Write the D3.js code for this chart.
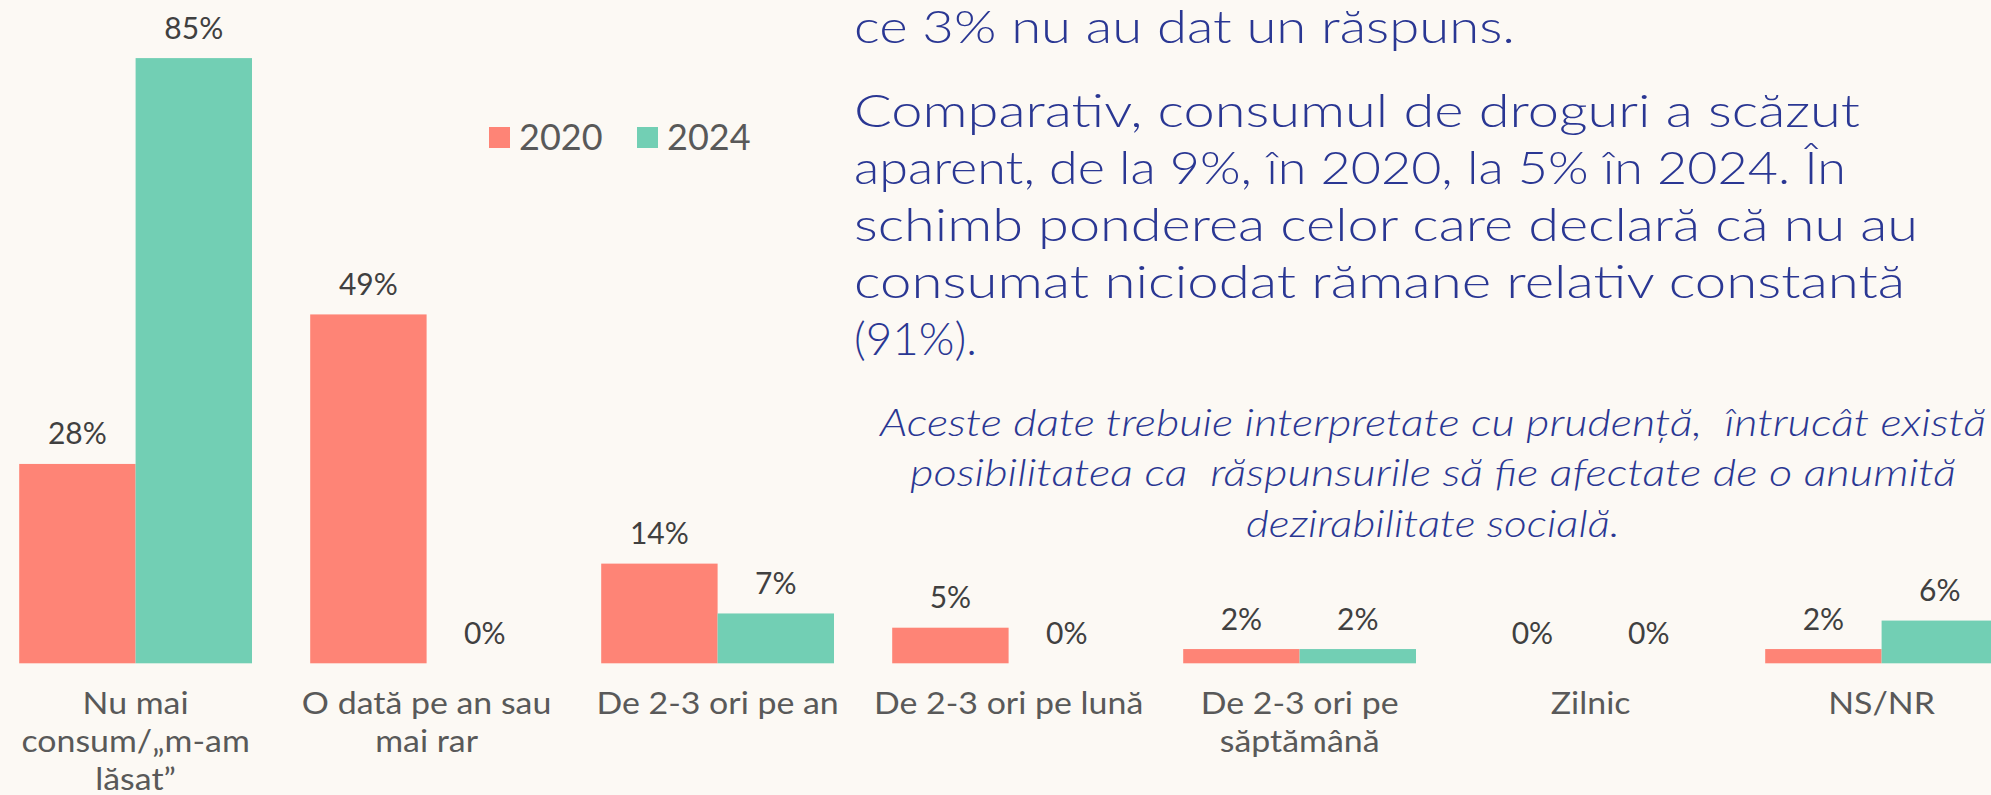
<!DOCTYPE html>
<html><head><meta charset="utf-8">
<script src="https://cdn.jsdelivr.net/npm/d3@7"></script>
<style>
html,body{margin:0;padding:0;background:#FCF9F4;}
svg{display:block;}
</style></head>
<body>
<svg id="c" width="1991" height="795"></svg>
<script>
const categories = ["Nu mai\nconsum/„m-am\nlăsat”", "O dată pe an sau\nmai rar", "De 2-3 ori pe an", "De 2-3 ori pe lună", "De 2-3 ori pe\nsăptămână", "Zilnic", "NS/NR"];
const seriesNames = ["2020", "2024"];
const values2020 = [28, 49, 14, 5, 2, 0, 2];
const values2024 = [85, 0, 7, 0, 2, 0, 6];
const colors = ["#FE8476", "#72CFB4"];
const paragraphLines = [
  "ce 3% nu au dat un răspuns.",
  "Comparativ, consumul de droguri a scăzut",
  "aparent, de la 9%, în 2020, la 5% în 2024. În",
  "schimb ponderea celor care declară că nu au",
  "consumat niciodat rămane relativ constantă",
  "(91%)."
];
const noteLines = [
  "Aceste date trebuie interpretate cu prudență,  întrucât există",
  "posibilitatea ca  răspunsurile să fie afectate de o anumită",
  "dezirabilitate socială."
];

const FONT = "Lato, 'Open Sans', sans-serif";
const svg = d3.select("#c");
svg.append("rect").attr("width",1991).attr("height",795).attr("fill","#FCF9F4");

const baseY = 663.3;
const y = d3.scaleLinear().domain([0,100]).range([baseY, baseY-712]);
const x = d3.scaleBand().domain(categories).range([-9.9, 2027.1]).paddingInner(0.2).paddingOuter(0.1);
const xs = d3.scaleBand().domain(seriesNames).range([0, x.bandwidth()]);
const color = d3.scaleOrdinal().domain(seriesNames).range(colors);

const rows = categories.map((c,i)=>({cat:c, vals:[{s:"2020",v:values2020[i]},{s:"2024",v:values2024[i]}]}));

const g = svg.append("g");
const grp = g.selectAll("g.cat").data(rows).join("g").attr("class","cat")
  .attr("transform", d=>`translate(${x(d.cat)},0)`);
grp.selectAll("rect").data(d=>d.vals).join("rect")
  .attr("x", d=>xs(d.s)).attr("width", xs.bandwidth())
  .attr("y", d=>y(d.v)).attr("height", d=>baseY - y(d.v))
  .attr("fill", d=>color(d.s));
grp.selectAll("text.val").data(d=>d.vals).join("text").attr("class","val")
  .attr("x", d=>xs(d.s)+xs.bandwidth()/2).attr("y", d=>y(d.v)-19.5)
  .attr("text-anchor","middle").attr("font-family",FONT).attr("font-size",30)
  .attr("fill","#404040").text(d=>d.v+"%");

// category axis labels (slightly widened to mimic the original wide typeface)
const lab = g.selectAll("text.cat").data(categories).join("text").attr("class","cat")
  .attr("text-anchor","middle").attr("font-family",FONT).attr("font-size",30).attr("fill","#595959")
  .attr("transform", d=>`translate(${x(d)+x.bandwidth()/2},714) scale(1.13,1)`);
lab.selectAll("tspan").data(d=>d.split("\n")).join("tspan")
  .attr("x",0).attr("dy",(d,i)=>i===0?0:37.8).text(d=>d);

// legend
const legX = [489, 637];
const leg = svg.selectAll("g.leg").data(seriesNames).join("g").attr("class","leg")
  .attr("transform",(d,i)=>`translate(${legX[i]},127)`);
leg.append("rect").attr("width",21).attr("height",21).attr("fill",d=>color(d));
leg.append("text").attr("x",30).attr("y",23).attr("font-family",FONT).attr("font-size",36)
  .attr("fill","#595959").text(d=>d);

// paragraph
const paraY = [42.7, 126.7, 184, 240.7, 298.3, 355];
const paraW = [661, 1006, 992, 1064, 1051, 123];
svg.selectAll("text.para").data(paragraphLines).join("text").attr("class","para")
  .attr("x",854).attr("y",(d,i)=>paraY[i]).attr("font-family",FONT).attr("font-size",45)
  .attr("font-weight",300)
  .attr("fill","#2A3793").attr("textLength",(d,i)=>paraW[i]).attr("lengthAdjust","spacingAndGlyphs")
  .text(d=>d);

// note
const noteY = [435.5, 485.5, 537];
const noteW = [1106, 1046, 374];
svg.selectAll("text.note").data(noteLines).join("text").attr("class","note")
  .attr("x",(d,i)=>1433 - noteW[i]/2).attr("y",(d,i)=>noteY[i])
  .attr("font-family",FONT).attr("font-size",38).attr("font-style","italic").attr("font-weight",300)
  .attr("fill","#2A3793").attr("textLength",(d,i)=>noteW[i]).attr("lengthAdjust","spacingAndGlyphs")
  .style("white-space","pre").attr("xml:space","preserve")
  .text(d=>d);
</script>
</body></html>
